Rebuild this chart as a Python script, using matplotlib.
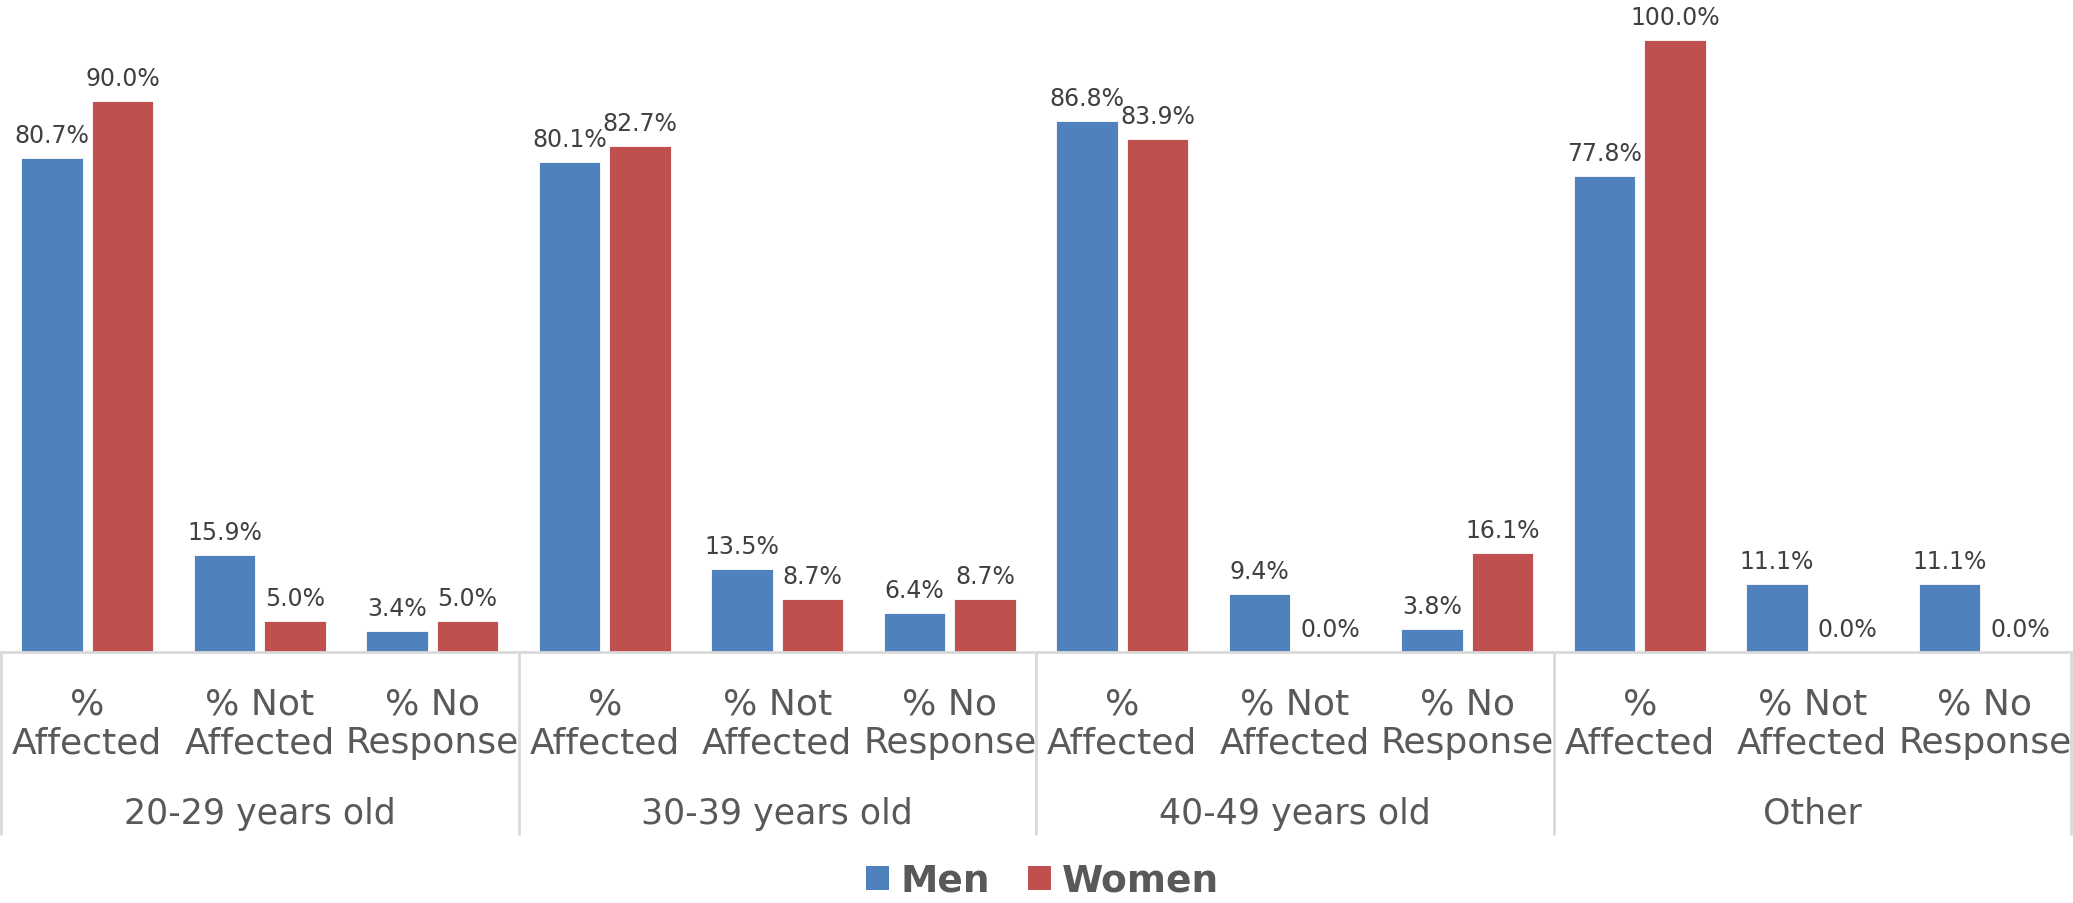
import matplotlib.pyplot as plt
import matplotlib.transforms as mtransforms
from matplotlib.patches import Patch
import numpy as np

groups = ["20-29 years old", "30-39 years old", "40-49 years old", "Other"]
categories = ["%\nAffected", "% Not\nAffected", "% No\nResponse"]
men = [80.7, 15.9, 3.4, 80.1, 13.5, 6.4, 86.8, 9.4, 3.8, 77.8, 11.1, 11.1]
women = [90.0, 5.0, 5.0, 82.7, 8.7, 8.7, 83.9, 0.0, 16.1, 100.0, 0.0, 0.0]

BLUE = "#4F81BD"
RED = "#C0504D"
LABEL = "#404040"
AXIS_TXT = "#595959"
GRID = "#D9D9D9"

plt.rcParams["font.family"] = ["DejaVu Sans"]

W, H = 2073, 904
fig = plt.figure(figsize=(W / 100, H / 100), dpi=100)
base_px = 653      # baseline, pixels from top
top_px = 41        # where 100% sits
ax_h = base_px - top_px
ax = fig.add_axes([1 / W, (H - base_px) / H, 2070 / W, ax_h / H])

x = np.arange(len(men))
bw = 0.355
off = 0.205
b1 = ax.bar(x - off, men, bw, color=BLUE, edgecolor="white", linewidth=0.6)
b2 = ax.bar(x + off, women, bw, color=RED, edgecolor="white", linewidth=0.6)

ax.set_xlim(-0.5, len(men) - 0.5)
ax.set_ylim(0, 100)

# value labels
for bars, vals in ((b1, men), (b2, women)):
    for rect, v in zip(bars, vals):
        ax.annotate(f"{v:.1f}%", (rect.get_x() + rect.get_width() / 2, v),
                    xytext=(0, 16), textcoords="offset pixels",
                    ha="center", va="baseline", fontsize=17, color=LABEL,
                    annotation_clip=False)

for s in ["top", "left", "right"]:
    ax.spines[s].set_visible(False)
ax.spines["bottom"].set_color(GRID)
ax.spines["bottom"].set_linewidth(2)
ax.set_yticks([])
ax.set_xticks([])

# multi-level category axis
xt = ax.get_xaxis_transform()
def below(px):
    return mtransforms.offset_copy(xt, fig=fig, x=0, y=-px, units="dots")

for i in range(len(men)):
    ax.text(i, 0, categories[i % 3], transform=below(71), ha="center",
            va="center", fontsize=26, color=AXIS_TXT, linespacing=1.15)

for g, name in enumerate(groups):
    ax.text(g * 3 + 1, 0, name, transform=below(161), ha="center",
            va="center", fontsize=25, color=AXIS_TXT)

sep_depth = 183 / ax_h
for b in range(len(groups) + 1):
    xb = b * 3 - 0.5
    ax.plot([xb, xb], [0, -sep_depth], transform=xt, color=GRID,
            linewidth=2, clip_on=False, solid_capstyle="butt")

handles = [Patch(facecolor=BLUE, label="Men"), Patch(facecolor=RED, label="Women")]
fig.legend(handles=handles, loc="center", bbox_to_anchor=(0.503, 1 - 882 / H),
           ncol=2, frameon=False, handlelength=0.62, handleheight=0.62,
           handletextpad=0.3, columnspacing=1.0,
           prop={"size": 27, "weight": "bold"}, labelcolor=AXIS_TXT)

fig.savefig("out.png", dpi=100)
